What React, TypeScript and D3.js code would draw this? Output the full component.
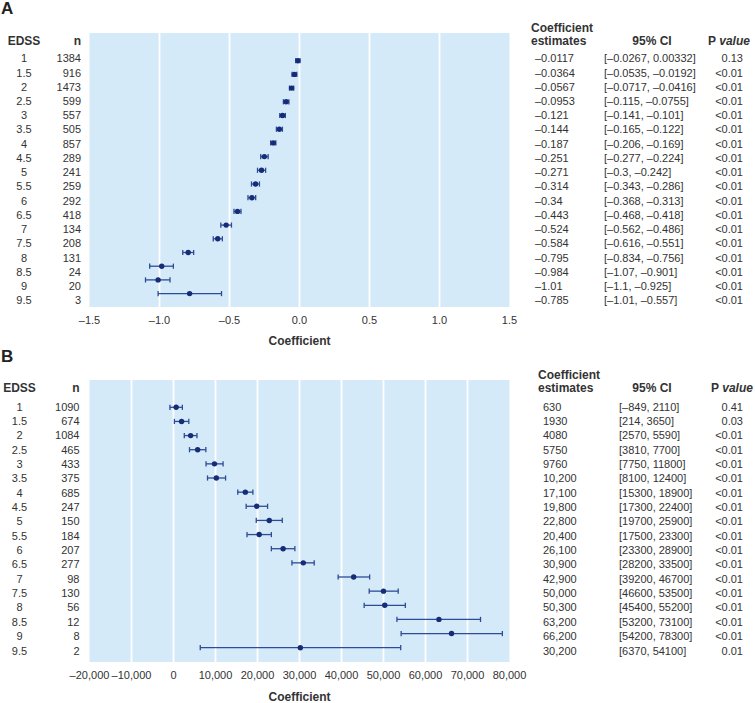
import * as d3 from 'd3';

const edss = ['1', '1.5', '2', '2.5', '3', '3.5', '4', '4.5', '5', '5.5', '6', '6.5', '7', '7.5', '8', '8.5', '9', '9.5'];

// Panel A
const nA = [1384, 916, 1473, 599, 557, 505, 857, 289, 241, 259, 292, 418, 134, 208, 131, 24, 20, 3];
const estA = [-0.0117, -0.0364, -0.0567, -0.0953, -0.121, -0.144, -0.187, -0.251, -0.271, -0.314, -0.34, -0.443, -0.524, -0.584, -0.795, -0.984, -1.01, -0.785];
const loA = [-0.0267, -0.0535, -0.0717, -0.115, -0.141, -0.165, -0.206, -0.277, -0.3, -0.343, -0.368, -0.468, -0.562, -0.616, -0.834, -1.07, -1.1, -1.01];
const hiA = [0.00332, -0.0192, -0.0416, -0.0755, -0.101, -0.122, -0.169, -0.224, -0.242, -0.286, -0.313, -0.418, -0.486, -0.551, -0.756, -0.901, -0.925, -0.557];
const estLabelA = ['–0.0117', '–0.0364', '–0.0567', '–0.0953', '–0.121', '–0.144', '–0.187', '–0.251', '–0.271', '–0.314', '–0.34', '–0.443', '–0.524', '–0.584', '–0.795', '–0.984', '–1.01', '–0.785'];
const ciLabelA = ['[–0.0267, 0.00332]', '[–0.0535, –0.0192]', '[–0.0717, –0.0416]', '[–0.115, –0.0755]', '[–0.141, –0.101]', '[–0.165, –0.122]', '[–0.206, –0.169]', '[–0.277, –0.224]', '[–0.3, –0.242]', '[–0.343, –0.286]', '[–0.368, –0.313]', '[–0.468, –0.418]', '[–0.562, –0.486]', '[–0.616, –0.551]', '[–0.834, –0.756]', '[–1.07, –0.901]', '[–1.1, –0.925]', '[–1.01, –0.557]'];
const pA = ['0.13', '<0.01', '<0.01', '<0.01', '<0.01', '<0.01', '<0.01', '<0.01', '<0.01', '<0.01', '<0.01', '<0.01', '<0.01', '<0.01', '<0.01', '<0.01', '<0.01', '<0.01'];
const ticksA = [-1.5, -1.0, -0.5, 0, 0.5, 1.0, 1.5];

// Panel B
const nB = [1090, 674, 1084, 465, 433, 375, 685, 247, 150, 184, 207, 277, 98, 130, 56, 12, 8, 2];
const estB = [630, 1930, 4080, 5750, 9760, 10200, 17100, 19800, 22800, 20400, 26100, 30900, 42900, 50000, 50300, 63200, 66200, 30200];
const loB = [-849, 214, 2570, 3810, 7750, 8100, 15300, 17300, 19700, 17500, 23300, 28200, 39200, 46600, 45400, 53200, 54200, 6370];
const hiB = [2110, 3650, 5590, 7700, 11800, 12400, 18900, 22400, 25900, 23300, 28900, 33500, 46700, 53500, 55200, 73100, 78300, 54100];
const estLabelB = ['630', '1930', '4080', '5750', '9760', '10,200', '17,100', '19,800', '22,800', '20,400', '26,100', '30,900', '42,900', '50,000', '50,300', '63,200', '66,200', '30,200'];
const ciLabelB = ['[–849, 2110]', '[214, 3650]', '[2570, 5590]', '[3810, 7700]', '[7750, 11800]', '[8100, 12400]', '[15300, 18900]', '[17300, 22400]', '[19700, 25900]', '[17500, 23300]', '[23300, 28900]', '[28200, 33500]', '[39200, 46700]', '[46600, 53500]', '[45400, 55200]', '[53200, 73100]', '[54200, 78300]', '[6370, 54100]'];
const pB = ['0.41', '0.03', '<0.01', '<0.01', '<0.01', '<0.01', '<0.01', '<0.01', '<0.01', '<0.01', '<0.01', '<0.01', '<0.01', '<0.01', '<0.01', '<0.01', '<0.01', '0.01'];
const ticksB = [-20000, -10000, 0, 10000, 20000, 30000, 40000, 50000, 60000, 70000, 80000];

const FONT = 'Arial, "Liberation Sans", Helvetica, sans-serif';
const TEXT = '#333';
const BG = '#d5eaf8';
const DOT = '#172c76';
const BAR = '#2d4b96';

interface PanelProps {
  top: number;
  letter: string;
  n: number[];
  est: number[];
  lo: number[];
  hi: number[];
  estLabel: string[];
  ciLabel: string[];
  p: string[];
  ticks: number[];
  domain: [number, number];
  tickFmt: (v: number) => string;
  cfg: {
    plotTop: number; plotBottom: number;
    textRow: [number, number]; pointRow: [number, number];
    edssX: number; nX: number; coefX: number; coefHeadX: number; ciX: number; ciHeadX: number; pX: number; pHeadX: number;
    axisY: number; titleY: number;
  };
}

function Panel({ top, letter, n, est, lo, hi, estLabel, ciLabel, p, ticks, domain, tickFmt, cfg }: PanelProps) {
  const x = d3.scaleLinear().domain(domain).range([89.5, 509.5]);
  const yText = d3.scalePoint<string>().domain(edss).range(cfg.textRow);
  const yPt = d3.scalePoint<string>().domain(edss).range(cfg.pointRow);
  const headY = cfg.plotTop + 8;

  return (
    <g transform={`translate(0,${top})`} fontFamily={FONT} fill={TEXT}>
      <text x={1} y={14} fontSize={17} fontWeight={700} fill="#222">{letter}</text>

      {/* plot background + grid */}
      <rect x={x(domain[0])} y={cfg.plotTop} width={x(domain[1]) - x(domain[0])} height={cfg.plotBottom - cfg.plotTop} fill={BG} />
      {ticks.slice(1, -1).map(t => (
        <line key={t} x1={x(t)} x2={x(t)} y1={cfg.plotTop} y2={cfg.plotBottom} stroke="#fff" strokeWidth={1.8} />
      ))}

      {/* error bars */}
      {edss.map((e, i) => {
        const y = yPt(e)!;
        return (
          <g key={e}>
            <line x1={x(lo[i])} x2={x(hi[i])} y1={y} y2={y} stroke={BAR} strokeWidth={1.3} />
            <line x1={x(lo[i])} x2={x(lo[i])} y1={y - 2.6} y2={y + 2.6} stroke={BAR} strokeWidth={1.3} />
            <line x1={x(hi[i])} x2={x(hi[i])} y1={y - 2.6} y2={y + 2.6} stroke={BAR} strokeWidth={1.3} />
            <circle cx={x(est[i])} cy={y} r={2.7} fill={DOT} />
          </g>
        );
      })}

      {/* axis */}
      {ticks.map(t => (
        <text key={t} x={x(t)} y={cfg.axisY} fontSize={11} textAnchor="middle">{tickFmt(t)}</text>
      ))}
      <text x={x((domain[0] + domain[1]) / 2)} y={cfg.titleY} fontSize={12} fontWeight={700} textAnchor="middle">Coefficient</text>

      {/* left columns */}
      <text x={cfg.edssX} y={headY + 4} fontSize={12} fontWeight={700} textAnchor="middle">EDSS</text>
      <text x={cfg.nX} y={headY + 4} fontSize={12} fontWeight={700} textAnchor="end">n</text>
      {edss.map((e, i) => (
        <g key={e} fontSize={11}>
          <text x={cfg.edssX} y={yText(e)! + 4} textAnchor="middle">{e}</text>
          <text x={cfg.nX} y={yText(e)! + 4} textAnchor="end">{n[i]}</text>
        </g>
      ))}

      {/* right table */}
      <text x={cfg.coefHeadX} y={headY - 9} fontSize={12} fontWeight={700}>Coefficient</text>
      <text x={cfg.coefHeadX} y={headY + 4} fontSize={12} fontWeight={700}>estimates</text>
      <text x={cfg.ciHeadX} y={headY + 4} fontSize={12} fontWeight={700} textAnchor="middle">95% CI</text>
      <text x={cfg.pHeadX} y={headY + 4} fontSize={12} fontWeight={700} textAnchor="middle">
        P <tspan fontStyle="italic">value</tspan>
      </text>
      {edss.map((e, i) => (
        <g key={e} fontSize={11}>
          <text x={cfg.coefX} y={yText(e)! + 4}>{estLabel[i]}</text>
          <text x={cfg.ciX} y={yText(e)! + 4}>{ciLabel[i]}</text>
          <text x={cfg.pX} y={yText(e)! + 4} textAnchor="end">{p[i]}</text>
        </g>
      ))}
    </g>
  );
}

const fmtA = (v: number) => (v < 0 ? '–' : '') + Math.abs(v).toFixed(1);
const fmtB = (v: number) => (v < 0 ? '–' : '') + d3.format(',')(Math.abs(v));

export default function App() {
  return (
    <svg width={755} height={703} style={{ display: 'block', position: 'absolute', left: 0, top: 0 }}>
      <rect width={755} height={703} fill="#fff" />
      <Panel
        top={0} letter="A" n={nA} est={estA} lo={loA} hi={hiA}
        estLabel={estLabelA} ciLabel={ciLabelA} p={pA} ticks={ticksA} domain={[-1.5, 1.5]} tickFmt={fmtA}
        cfg={{
          plotTop: 33, plotBottom: 307, textRow: [58.3, 300.3], pointRow: [60.7, 293.6],
          edssX: 24, nX: 81, coefX: 535, coefHeadX: 531, ciX: 604, ciHeadX: 652, pX: 743, pHeadX: 729,
          axisY: 324, titleY: 345,
        }}
      />
      <Panel
        top={0} letter="" n={nB} est={estB} lo={loB} hi={hiB}
        estLabel={estLabelB} ciLabel={ciLabelB} p={pB} ticks={ticksB} domain={[-20000, 80000]} tickFmt={fmtB}
        cfg={{
          plotTop: 380, plotBottom: 662, textRow: [406.7, 650.5], pointRow: [407.3, 647.7],
          edssX: 19.5, nX: 79.5, coefX: 543, coefHeadX: 538, ciX: 619, ciHeadX: 652, pX: 743, pHeadX: 732,
          axisY: 679, titleY: 701,
        }}
      />
      <text x={1} y={362} fontSize={17} fontWeight={700} fill="#222" fontFamily={FONT}>B</text>
    </svg>
  );
}
